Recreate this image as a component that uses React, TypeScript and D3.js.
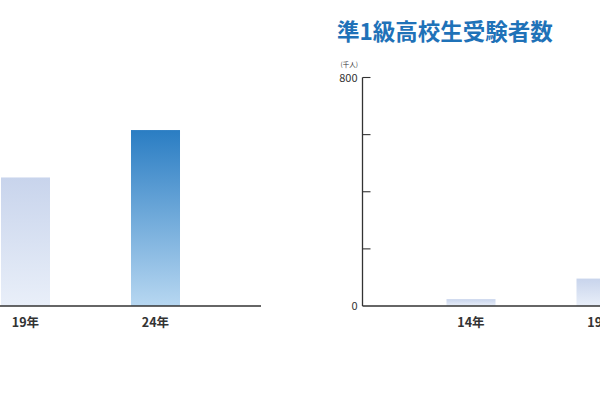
import React from "react";
import * as d3 from "d3";

// Data
const categories = ["14年", "19年", "24年"];
// Left chart (title off-screen), values in 千人
const leftValues = [300, 450, 616];
// Right chart: 準1級高校生受験者数 (千人)
const rightTitle = "準1級高校生受験者数";
const rightValues = [24, 96, 150];
const yTicks = [0, 200, 400, 600, 800];
const yTickLabels = ["0", "800"];
const unitLabel = "(千人)";
const highlightCategory = "24年";

const W = 600;
const H = 400;
const FONT = "'Noto Sans CJK JP', 'Noto Sans', sans-serif";

type ChartProps = {
  axisX: number;
  values: number[];
  title?: string;
  id: string;
};

const visible = (cx: number) => cx > -15 && cx < W + 15;

function BarChart({ axisX, values, title, id }: ChartProps) {
  const baseY = 306;
  const topY = 77.5;
  const y = d3.scaleLinear().domain([0, 800]).range([baseY, topY]);
  const r0 = axisX + 43.5;
  const x = d3
    .scaleBand<string>()
    .domain(categories)
    .range([r0, r0 + 390])
    .paddingInner(0.623)
    .paddingOuter(0.3115);
  const axisEnd = axisX + 474;
  const showY = visible(axisX);
  return (
    <g>
      <defs>
        <linearGradient id={`${id}-hi`} x1="0" y1="0" x2="0" y2="1">
          <stop offset="0%" stopColor="#2a7dc3" />
          <stop offset="100%" stopColor="#b7d7f1" />
        </linearGradient>
        <linearGradient id={`${id}-lo`} x1="0" y1="0" x2="0" y2="1">
          <stop offset="0%" stopColor="#c8d4ec" />
          <stop offset="100%" stopColor="#e9eff9" />
        </linearGradient>
      </defs>
      {title && showY && (
        <text
          x={axisX - 25.5}
          y={39.5}
          fontFamily={FONT}
          fontWeight="bold"
          fontSize={22.5}
          fill="#1f72b8"
        >
          {title}
        </text>
      )}
      {categories.map((c, i) => (
        <rect
          key={c}
          x={x(c)}
          y={y(values[i])}
          width={x.bandwidth()}
          height={baseY - y(values[i])}
          fill={`url(#${id}-${c === highlightCategory ? "hi" : "lo"})`}
        />
      ))}
      {/* y axis */}
      <line x1={axisX} x2={axisX} y1={y(800)} y2={baseY} stroke="#333" strokeWidth={1.3} />
      {yTicks.slice(1).map((t) => (
        <line
          key={t}
          x1={axisX}
          x2={axisX + 8}
          y1={y(t)}
          y2={y(t)}
          stroke="#333"
          strokeWidth={1.1}
        />
      ))}
      {showY &&
        yTickLabels.map((l) => (
          <text
            key={l}
            x={axisX - 5}
            y={y(+l) + 4}
            textAnchor="end"
            fontFamily={FONT}
            fontSize={11}
            fill="#333"
          >
            {l}
          </text>
        ))}
      {showY && (
        <text x={axisX - 22} y={67} fontFamily={FONT} fontSize={6.5} fill="#333">
          {unitLabel}
        </text>
      )}
      {/* x axis */}
      <line x1={axisX} x2={axisEnd} y1={baseY} y2={baseY} stroke="#333" strokeWidth={1.4} />
      {categories
        .filter((c) => visible((x(c) as number) + x.bandwidth() / 2))
        .map((c) => (
          <text
            key={c}
            x={(x(c) as number) + x.bandwidth() / 2}
            y={327}
            textAnchor="middle"
            fontFamily={FONT}
            fontWeight="bold"
            fontSize={12.5}
            fill="#333"
          >
            {c}
          </text>
        ))}
    </g>
  );
}

export default function App() {
  return (
    <svg
      width={W}
      height={H}
      style={{ position: "absolute", left: 0, top: 0, background: "#fff" }}
    >
      <rect x={0} y={0} width={W} height={H} fill="#fff" />
      <BarChart axisX={-213} values={leftValues} id="left" />
      <BarChart axisX={362.5} values={rightValues} title={rightTitle} id="right" />
    </svg>
  );
}
